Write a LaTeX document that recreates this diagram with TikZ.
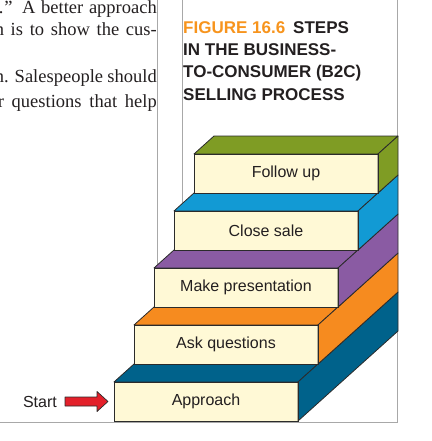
\documentclass[tikz,border=0pt]{standalone}
\usepackage{fontspec}
\setmainfont{Liberation Sans}
\newfontfamily\bodyserif{Liberation Serif}
\usetikzlibrary{calc}
\definecolor{stepteal}{HTML}{00628B}
\definecolor{steporange}{HTML}{F68B1F}
\definecolor{steppurple}{HTML}{8A5BA3}
\definecolor{stepblue}{HTML}{129AD4}
\definecolor{stepgreen}{HTML}{7F9C24}
\definecolor{stepcream}{HTML}{FFF9D6}
\definecolor{edgegray}{HTML}{2B2B2B}
\definecolor{titleorange}{HTML}{F7941D}
\definecolor{inkdark}{HTML}{231F20}
\definecolor{rulegray}{HTML}{A8A8A8}
\definecolor{arrowred}{HTML}{E3202A}
\tikzset{
  stepbox/.style={draw=edgegray, fill=stepcream, line width=0.8pt, inner sep=0pt, outer sep=0pt,
    minimum width=184pt, minimum height=39pt, font=\fontsize{16}{19}\selectfont, text=inkdark},
  face/.style={draw=edgegray, line width=0.8pt, line join=round},
  rule/.style={draw=rulegray, line width=0.9pt},
  bodytext/.style={anchor=base east, inner sep=0pt, font=\bodyserif\fontsize{18.5}{22}\selectfont, text=inkdark},
  titletext/.style={anchor=base west, inner sep=0pt, font=\bfseries\fontsize{17}{22}\selectfont, text=inkdark},
}
\begin{document}
\begin{tikzpicture}[x=1pt, y=-1pt]
\useasboundingbox (0,0) rectangle (431,441);
% frame rules
\coordinate (r1top) at (157,0);  \coordinate (r1bot) at (157,422);
\coordinate (r2top) at (182,0);  \coordinate (r2bot) at (182,422);
\coordinate (r3top) at (397,0);  \coordinate (r3bot) at (397,422);
\coordinate (bl) at (0,422);
\draw[rule] (r1top) -- (r1bot);
\draw[rule] (r2top) -- (r2bot);
\draw[rule] (r3top) -- (r3bot) -- (bl);
% body text (justified lines)
\node[bodytext] (t1) at (157,14) {\makebox[158pt][s]{.\kern1pt” A better approach}};
\node[bodytext] (t2) at (157,36) {\makebox[162pt][s]{n is to show the cus-}};
\node[bodytext] (t3) at (157,83) {\makebox[162pt][s]{n. Salespeople should}};
\node[bodytext] (t4) at (157,107) {\makebox[159pt][s]{r questions that help}};
% title
\node[titletext] (h1) at (183,34) {\textcolor{titleorange}{FIGURE 16.6}\hspace{8pt}STEPS};
\node[titletext] (h2) at (183,56) {IN THE BUSINESS-};
\node[titletext] (h3) at (183,78) {TO-CONSUMER (B2C)};
\node[titletext] (h4) at (183,100) {SELLING PROCESS};
% steps
\foreach \k/\col/\lab in {0/stepteal/Approach, 1/steporange/Ask questions, 2/steppurple/Make presentation, 3/stepblue/Close sale, 4/stepgreen/Follow up}{
  \node[stepbox] (s\k) at ({206+20*\k},{401.5-57*\k}) {\lab};
  \pgfmathsetmacro{\dx}{20*(5-\k)}
  \pgfmathsetmacro{\dy}{-18*(5-\k)}
  \draw[face, fill=\col] (s\k.north west) -- ++(20,-18) -- ++(184,0) -- (s\k.north east) -- cycle;
  \draw[face, fill=\col] (s\k.north east) -- ++(\dx,\dy) -- ++(0,39) -- (s\k.south east) -- cycle;
  \draw[edgegray, line width=0.8pt] (s\k.north west) rectangle (s\k.south east);
}
% start
\node[anchor=east, inner sep=0pt, font=\fontsize{16}{19}\selectfont, text=inkdark] (start) at (57,401.5) {Start};
\coordinate (a0) at (65,401.5);
\draw[face, fill=arrowred, line width=0.7pt]
  (a0) ++(0,-4.5) -- ++(32,0) -- ++(0,-5.5) -- ++(11,10) -- ++(-11,10) -- ++(0,-5.5) -- ++(-32,0) -- cycle;
\end{tikzpicture}
\end{document}
